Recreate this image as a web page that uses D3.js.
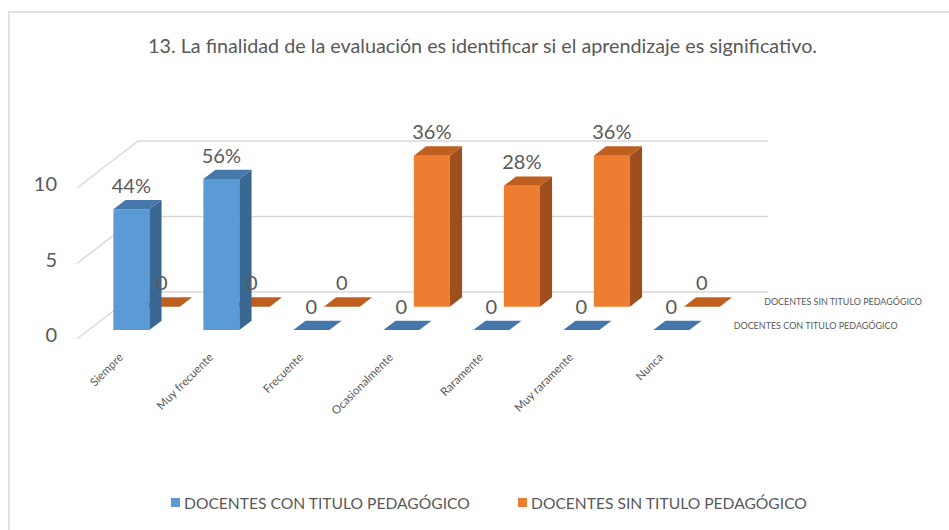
<!DOCTYPE html>
<html><head><meta charset="utf-8">
<script src="https://cdn.jsdelivr.net/npm/d3@7"></script>
<style>
html,body{margin:0;padding:0;background:#fff;}
svg{display:block;font-family:Lato,"Open Sans",sans-serif;}
</style></head>
<body>
<svg id="chart" width="949" height="530"></svg>
<script>
const title = "13. La finalidad de la evaluación es identificar si el aprendizaje es significativo.";
const categories = ["Siempre","Muy frecuente","Frecuente","Ocasionalmente","Raramente","Muy raramente","Nunca"];
const seriesNames = ["DOCENTES CON TITULO PEDAGÓGICO","DOCENTES SIN TITULO PEDAGÓGICO"];
const conTitulo = [8,10,0,0,0,0,0];
const sinTitulo = [0,0,0,10,8,10,0];
const conLabels = ["44%","56%","0","0","0","0","0"];
const sinLabels = ["0","0","0","36%","28%","36%","0"];
const yTicks = [0,5,10];

const svg = d3.select("#chart");
const textColor = "#595959";
const gridColor = "#d9d9d9";

// fit font size of a text element to a target width
function fit(sel, target){
  const n = sel.node();
  const w = n.getComputedTextLength();
  const fs = parseFloat(sel.attr("font-size"));
  sel.attr("font-size", (fs*target/w).toFixed(2));
}

// frame
svg.append("path").attr("d","M9,530V12H949").attr("fill","none").attr("stroke",gridColor).attr("stroke-width",1.5);

// title
const t = svg.append("text").attr("x",482.5).attr("y",53).attr("text-anchor","middle")
  .attr("fill",textColor).attr("font-size",18).text(title);
fit(t,669);

// 3D projection
const ox = 77, oy = 339, depthK = 0.77, floorW = 630, floorD = 61;
const y = d3.scaleLinear().domain([0,10]).range([0,151]);
const x = d3.scaleBand().domain(categories).range([0,floorW]).paddingInner(0.6).paddingOuter(0.3).align(0.46);
const z = d3.scaleBand().domain(seriesNames).range([0,floorD]).paddingInner(0.6).paddingOuter(0.3).align(0.63);
const P = (px,v,pz) => [ox + px + pz, oy - y(v) - pz*depthK];
const line = d3.line();

// gridlines: back wall and side wall
const grid = svg.append("g").attr("stroke",gridColor).attr("stroke-width",1.5).attr("fill","none");
yTicks.forEach(v=>{
  grid.append("path").attr("d", line([P(0,v,floorD),P(floorW,v,floorD)]));
  grid.append("path").attr("d", line([P(0,v,0),P(0,v,floorD)]));
});

// y axis labels
svg.append("g").selectAll("text").data(yTicks).join("text")
  .attr("x", d=>P(0,d,0)[0]-20).attr("y", d=>P(0,d,0)[1]-2)
  .attr("text-anchor","end").attr("dominant-baseline","middle")
  .attr("font-size",20).attr("fill",textColor).text(d=>d);

const colors = {
  [seriesNames[0]]: {front:"#5B9BD5", side:"#3A6893", top:"#4677AA"},
  [seriesNames[1]]: {front:"#ED7D31", side:"#9E4F1D", top:"#BE5F1F"}
};

function drawSeries(name, values){
  const c = colors[name];
  const z0 = z(name), dz = z.bandwidth(), w = x.bandwidth();
  const g = svg.append("g");
  categories.forEach((cat,i)=>{
    const x0 = x(cat), v = values[i];
    const bg = g.append("g");
    bg.append("path").attr("fill",c.front)
      .attr("d", line([P(x0,0,z0),P(x0+w,0,z0),P(x0+w,v,z0),P(x0,v,z0)])+"Z");
    bg.append("path").attr("fill",c.side)
      .attr("d", line([P(x0+w,0,z0),P(x0+w,0,z0+dz),P(x0+w,v,z0+dz),P(x0+w,v,z0)])+"Z");
    bg.append("path").attr("fill",c.top)
      .attr("d", line([P(x0,v,z0),P(x0+w,v,z0),P(x0+w,v,z0+dz),P(x0,v,z0+dz)])+"Z");
  });
}
drawSeries(seriesNames[1], sinTitulo);
drawSeries(seriesNames[0], conTitulo);

// data labels
function drawLabels(name, values, labels){
  const z0 = z(name), dz = z.bandwidth(), w = x.bandwidth();
  svg.append("g").selectAll("text").data(categories).join("text")
    .attr("x", (d,i)=>P(x(d)+w/2,values[i],z0)[0])
    .attr("y", (d,i)=>P(x(d)+w/2,values[i],z0+dz)[1]-7)
    .attr("text-anchor","middle").attr("font-size",20).attr("fill",textColor)
    .text((d,i)=>labels[i]);
}
drawLabels(seriesNames[1], sinTitulo, sinLabels);
drawLabels(seriesNames[0], conTitulo, conLabels);

// category labels
const catG = svg.append("g");
categories.forEach(cat=>{
  const p = P(x(cat)+x.bandwidth()/2, 0, 0);
  catG.append("text").attr("transform",`translate(${p[0]+4},${p[1]+19}) rotate(-45)`)
    .attr("text-anchor","end").attr("font-size",11.5).attr("fill",textColor).text(cat);
});

// series (depth axis) labels
const sg = svg.append("g");
seriesNames.forEach((s,i)=>{
  const p = P(floorW,0,z(s)+z.bandwidth()/2);
  const tt = sg.append("text").attr("x",p[0]+9).attr("y",p[1]+1).attr("dominant-baseline","middle")
    .attr("font-size",10).attr("fill",textColor).text(s);
  fit(tt, i===0 ? 164 : 158);
});

// legend
const legendX = [171, 518];
const legendTW = [286, 276];
seriesNames.forEach((s,i)=>{
  svg.append("rect").attr("x",legendX[i]).attr("y",498).attr("width",9).attr("height",9).attr("fill",colors[s].front);
  const lt = svg.append("text").attr("x",legendX[i]+13).attr("y",509).attr("font-size",15)
    .attr("fill",textColor).text(s);
  fit(lt, legendTW[i]);
});
</script>
</body></html>
